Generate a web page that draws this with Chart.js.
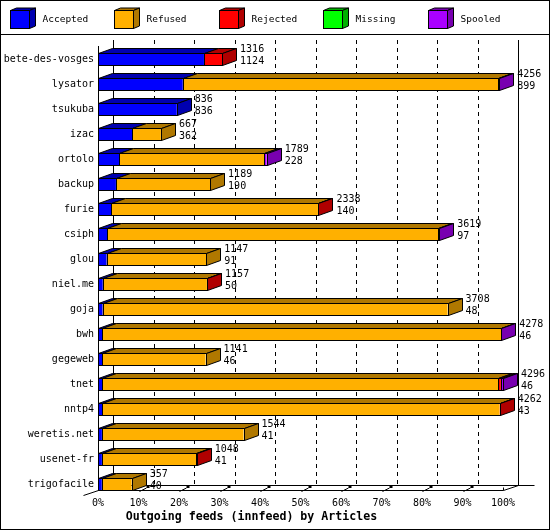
<!DOCTYPE html>
<html><head><meta charset="utf-8">
<script src="https://cdn.jsdelivr.net/npm/chart.js@4/dist/chart.umd.min.js"></script>
<style>html,body{margin:0;padding:0;background:#fff}#c{display:block}</style>
</head><body>
<canvas id="c" width="550" height="530"></canvas>
<script>
const categories = ['bete-des-vosges','lysator','tsukuba','izac','ortolo','backup','furie','csiph','glou','niel.me','goja','bwh','gegeweb','tnet','nntp4','weretis.net','usenet-fr','trigofacile'];
const offered  = [1316,4256,836,667,1789,1189,2338,3619,1147,1157,3708,4278,1141,4296,4262,1544,1048,357];
const accepted = [1124,899,836,362,228,190,140,97,91,50,48,46,46,46,43,41,41,40];
const refused  = [0,3347,0,305,1538,999,2193,3512,1056,1105,3660,4229,1095,4199,4216,1503,1002,317];
const rejected = [192,0,0,0,0,0,5,0,0,2,0,0,0,28,3,0,5,0];
const missing  = [0,8,0,0,0,0,0,0,0,0,0,0,0,0,0,0,0,0];
const spooled  = [0,2,0,0,23,0,0,10,0,0,0,3,0,23,0,0,0,0];
const seriesNames = ['Accepted','Refused','Rejected','Missing','Spooled'];
const tickPercents = [0,10,20,30,40,50,60,70,80,90,100];
const axisTitle = 'Outgoing feeds (innfeed) by Articles';

const series = [accepted, refused, rejected, missing, spooled];
const frontColors = ['#0000ff','#ffb000','#ff0000','#00ff00','#aa00ff'];
const darkColors  = ['#0000b0','#b07800','#b00000','#00b000','#7800b0'];
const axisMax = Math.max(...offered);
const FONT = '"DejaVu Sans Mono", "Liberation Mono", monospace';
const DX = 14, DY = 5, WX = 15, WY = 5;

function poly(ctx, pts, fill) {
  ctx.beginPath();
  ctx.moveTo(pts[0][0], pts[0][1]);
  for (let k = 1; k < pts.length; k++) ctx.lineTo(pts[k][0], pts[k][1]);
  ctx.closePath();
  if (fill) { ctx.fillStyle = fill; ctx.fill(); }
  ctx.stroke();
}
function line(ctx, x1, y1, x2, y2) {
  ctx.beginPath(); ctx.moveTo(x1, y1); ctx.lineTo(x2, y2); ctx.stroke();
}
const r5 = v => Math.round(v) + 0.5;

const threeD = {
  id: 'threeD',
  beforeDatasetsDraw(chart) {
    const {ctx, chartArea: a, scales: {x}} = chart;
    const left = r5(x.getPixelForValue(0));
    const right = r5(x.getPixelForValue(axisMax));
    const yf = a.bottom - 6.5, yb = yf - WY, y0 = 40;
    ctx.save();
    ctx.strokeStyle = '#000'; ctx.lineWidth = 1;
    tickPercents.forEach((p, i) => {
      const px = r5(x.getPixelForValue(p / 100 * axisMax)) + WX;
      ctx.setLineDash(i === 0 || i === tickPercents.length - 1 ? [] : [4, 4]);
      line(ctx, px, y0, px, yb);
    });
    ctx.setLineDash([]);
    line(ctx, left + WX, yb, right + WX + 16, yb);
    line(ctx, left, 46, left, yf);
    line(ctx, left - 15, yf + 5, left, yf);
    line(ctx, left, yf, right, yf);
    line(ctx, right, yf, right + WX, yb);
    ctx.fillStyle = '#000';
    tickPercents.forEach((p, i) => {
      if (i === 0) return;
      const px = r5(x.getPixelForValue(p / 100 * axisMax));
      if (i === tickPercents.length - 1) { line(ctx, px, yf - 3, px, yf); return; }
      line(ctx, px, yf + 1, px + 7, yf - 2.5);
      ctx.fillRect(px + 7, yf - 4.5, 3, 2);
    });
    ctx.restore();
  },
  afterDatasetsDraw(chart) {
    const {ctx} = chart;
    ctx.save();
    ctx.strokeStyle = '#000'; ctx.lineWidth = 1;
    categories.forEach((cat, i) => {
      const segs = [];
      chart.data.datasets.forEach((ds, d) => {
        const el = chart.getDatasetMeta(d).data[i];
        if (!el || !(ds.data[i] > 0)) return;
        const p = el.getProps(['x', 'y', 'base', 'height'], true);
        segs.push({x1: Math.min(p.x, p.base), x2: Math.max(p.x, p.base), y: p.y, h: p.height, d});
      });
      if (!segs.length) return;
      const T = segs[0].y - segs[0].h / 2 + 0.5;
      const B = segs[0].y + segs[0].h / 2 - 0.5;
      segs.forEach(s => {
        const x1 = r5(s.x1), x2 = r5(s.x2);
        ctx.strokeRect(x1, T, x2 - x1, B - T);
        poly(ctx, [[x1, T], [x1 + DX, T - DY], [x2 + DX, T - DY], [x2, T]], darkColors[s.d]);
      });
      const last = segs[segs.length - 1];
      const xe = r5(last.x2);
      poly(ctx, [[xe, T], [xe + DX, T - DY], [xe + DX, B - DY], [xe, B]], darkColors[last.d]);
      ctx.fillStyle = '#000';
      ctx.font = '10px ' + FONT;
      ctx.textAlign = 'left'; ctx.textBaseline = 'middle';
      ctx.fillText(String(offered[i]), last.x2 + 18, last.y - 10);
      ctx.fillText(String(accepted[i]), last.x2 + 18, last.y + 2);
    });
    ctx.restore();
  },
  afterDraw(chart) {
    const {ctx} = chart;
    ctx.save();
    ctx.strokeStyle = '#000'; ctx.lineWidth = 1;
    chart.data.datasets.forEach((ds, d) => {
      const x0 = Math.round(10 + d * 104.4) + 0.5;
      const t = 10.5, w = 19, h = 18, dx = 6, dy = 2.5;
      ctx.fillStyle = frontColors[d];
      ctx.fillRect(x0, t, w, h);
      ctx.strokeRect(x0, t, w, h);
      poly(ctx, [[x0, t], [x0 + dx, t - dy], [x0 + w + dx, t - dy], [x0 + w, t]], darkColors[d]);
      poly(ctx, [[x0 + w, t], [x0 + w + dx, t - dy], [x0 + w + dx, t + h - dy], [x0 + w, t + h]], darkColors[d]);
      ctx.fillStyle = '#000';
      ctx.font = '9.5px ' + FONT;
      ctx.textAlign = 'left'; ctx.textBaseline = 'middle';
      ctx.fillText(ds.label, x0 + 32, 19.5);
    });
    line(ctx, 0, 34.5, 550, 34.5);
    ctx.strokeRect(0.5, 0.5, 549, 529);
    ctx.restore();
  }
};

new Chart(document.getElementById('c').getContext('2d'), {
  type: 'bar',
  data: {
    labels: categories,
    datasets: series.map((s, d) => ({
      label: seriesNames[d], data: s, backgroundColor: frontColors[d],
      borderWidth: 0, inflateAmount: 0, barThickness: 13
    }))
  },
  options: {
    indexAxis: 'y', responsive: false, animation: false, devicePixelRatio: 1,
    layout: {padding: {left: 0, right: 47, top: 47, bottom: 0}},
    scales: {
      x: {
        stacked: true, min: 0, max: axisMax,
        grid: {display: false, drawTicks: false}, border: {display: false},
        afterBuildTicks: s => { s.ticks = tickPercents.map(p => ({value: p / 100 * axisMax})); },
        ticks: {
          autoSkip: false, maxRotation: 0, padding: 0, color: '#000',
          font: {family: FONT, size: 10},
          callback: v => Math.round(v / axisMax * 100) + '%'
        },
        afterFit: s => { s.height = 13; }
      },
      y: {
        stacked: true,
        grid: {display: false, drawTicks: false}, border: {display: false},
        ticks: {autoSkip: false, padding: 4, color: '#000', font: {family: FONT, size: 10}},
        afterFit: s => { s.width = 98; }
      }
    },
    plugins: {
      legend: {display: false},
      tooltip: {enabled: false},
      title: {
        display: true, position: 'bottom', text: axisTitle, color: '#000',
        font: {family: FONT, size: 11.6, weight: 'bold', lineHeight: '14px'},
        padding: {top: 0, bottom: 6}
      }
    }
  },
  plugins: [threeD]
});
</script>
</body></html>
